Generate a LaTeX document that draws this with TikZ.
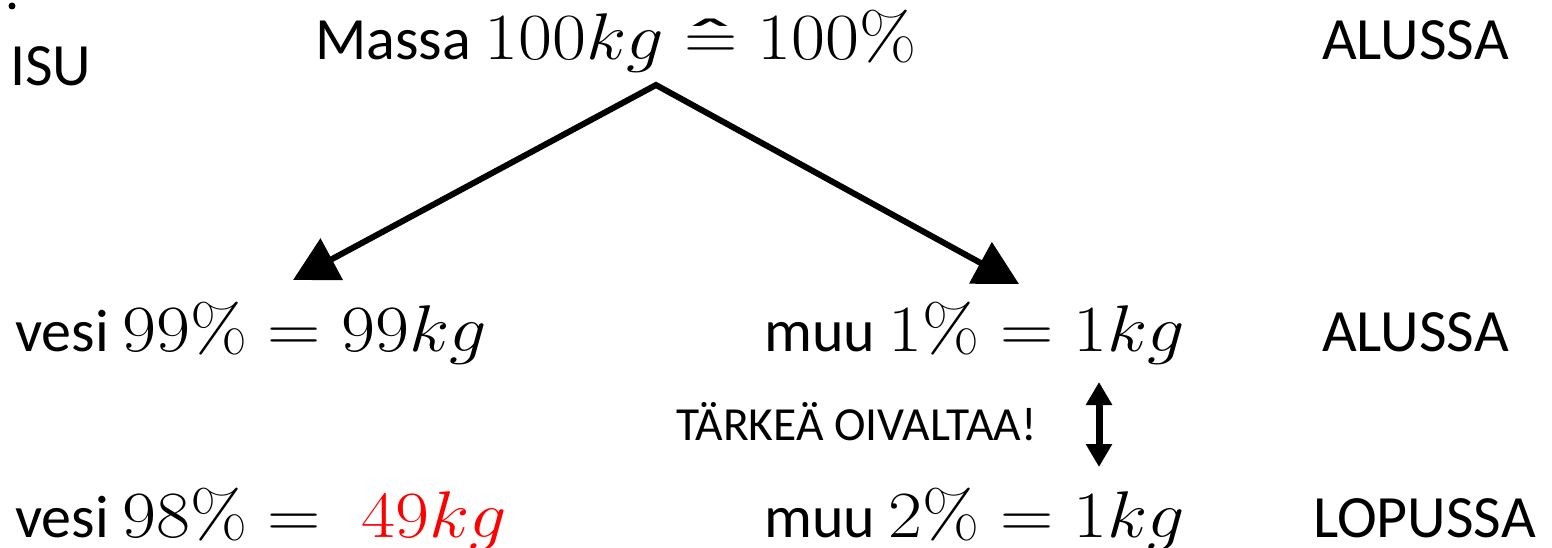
\RequirePackage{fix-cm}
\documentclass[tikz,border=0pt]{standalone}
\usepackage{amsmath}
\usepackage[no-math]{fontspec}
\setmainfont{Carlito}
\usetikzlibrary{arrows.meta}
\newcommand\mth[1]{\scalebox{1.12}[1]{\fontsize{66}{80}\selectfont$\thickmuskip=5mu plus 2mu #1$}}
\newcommand\hateq{\mathrel{\ooalign{$=$\cr\hidewidth\text{\fontsize{60}{60}\selectfont\scalebox{1.8}[1]{ˆ}}\hidewidth\cr}}}
\begin{document}
\begin{tikzpicture}[x=1pt,y=-1pt,
  txt/.style={inner sep=0pt, anchor=base west, font=\fontsize{60}{72}\selectfont},
  small/.style={txt, font=\fontsize{47.5}{56}\selectfont},
  big/.style={{Triangle[length=44pt,width=46pt]}-{Triangle[length=44pt,width=46pt]}, line width=6pt, line join=miter},
  dbl/.style={{Triangle[length=23pt,width=25pt]}-{Triangle[length=23pt,width=25pt]}, line width=7pt}]
\useasboundingbox (0,0) rectangle (1552,548);
\fill (12,6) circle (3.5pt);
\node[txt] (isu) at (10,86) {ISU};
\node[txt] (top) at (315,60) {Massa \mth{100kg \hateq 100\%}};
\node[txt] (a1) at (1322,60) {ALUSSA};
\node[txt] (v1) at (15,351) {vesi \mth{99\% = 99kg}};
\node[txt] (m1) at (764,351) {muu \mth{1\% = 1kg}};
\node[txt] (a2) at (1322,351) {ALUSSA};
\node[small] (imp) at (676,440) {TÄRKEÄ OIVALTAA!};
\node[txt] (v2) at (15,537) {vesi \mth{98\% =}};
\node[txt, text=red] (v2r) at (361,537) {\mth{49kg}};
\node[txt] (m2) at (764,537) {muu \mth{2\% = 1kg}};
\node[txt] (lo) at (1313,537) {LOPUSSA};
\coordinate (s) at (656,85);
\coordinate (tl) at (293,280);
\coordinate (tr) at (1019,284);
\draw[big] (tl) -- (s) -- (tr);
\coordinate (u1) at (1099,382);
\coordinate (u2) at (1099,467);
\draw[dbl] (u1) -- (u2);
\end{tikzpicture}
\end{document}
